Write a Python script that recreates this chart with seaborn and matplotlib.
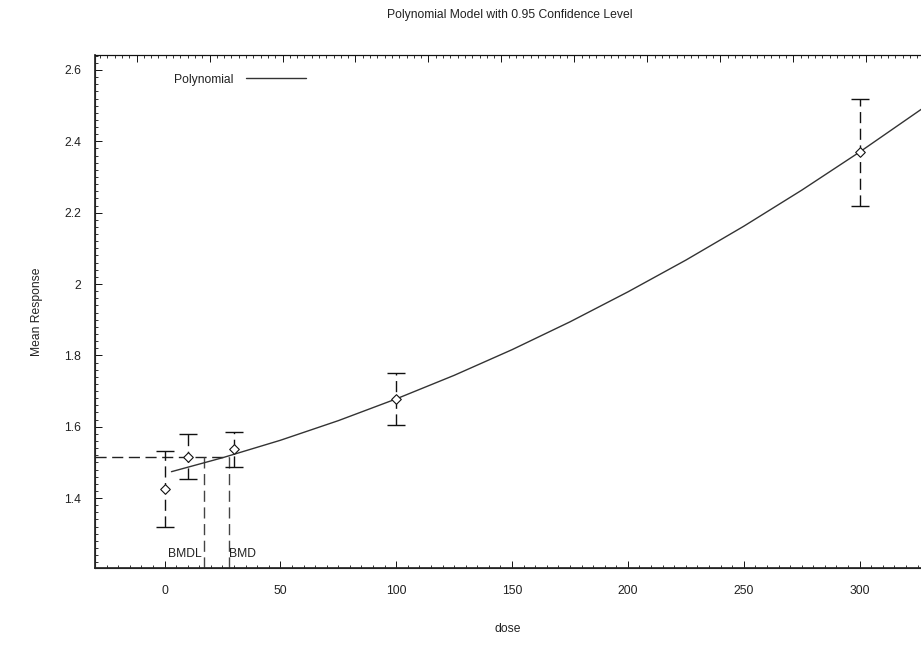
import numpy as np
import pandas as pd
import matplotlib
matplotlib.use("Agg")
import matplotlib.pyplot as plt
from matplotlib.ticker import MultipleLocator
import seaborn as sns

# Observed group data (dose, mean, lower/upper 95% limits)
doses = [0, 10, 30, 100, 300]
means = [1.426, 1.516, 1.538, 1.677, 2.370]
lower = [1.318, 1.453, 1.487, 1.604, 2.218]
upper = [1.533, 1.581, 1.585, 1.750, 2.518]

# Fitted polynomial curve
curve_dose = [3, 25, 50, 75, 100, 125, 150, 175, 200, 225, 250, 275, 300, 330]
curve_resp = [1.474, 1.513, 1.562, 1.617, 1.678, 1.744, 1.816, 1.894,
              1.978, 2.067, 2.162, 2.263, 2.370, 2.505]

# Benchmark dose markers
bmr_level = 1.516
bmdl = 17.2
bmd = 27.7

sns.set_theme(style="ticks")
plt.rcParams['font.family'] = ['Liberation Sans', 'DejaVu Sans']

fig = plt.figure(figsize=(9.21, 6.5), dpi=100)
ax = fig.add_axes([95 / 921, 82 / 650, 1 - 95 / 921, 513 / 650])

text_col = "#222222"
fs = 8.7
dash = (0, (8, 4))

# model curve
curve = pd.DataFrame({"dose": curve_dose, "resp": curve_resp})
sns.lineplot(data=curve, x="dose", y="resp", ax=ax, color="#333333",
             linewidth=1.0, label="Polynomial", zorder=3)

# error bars with dashed stems and solid caps
lo = np.array(means) - np.array(lower)
hi = np.array(upper) - np.array(means)
eb = ax.errorbar(doses, means, yerr=[lo, hi], fmt="none", ecolor="#111111",
                 elinewidth=1.0, capsize=6.8, capthick=1.0, zorder=2)
eb[2][0].set_linestyle(dash)

# diamond markers for the means
pts = pd.DataFrame({"dose": doses, "mean": means})
sns.scatterplot(data=pts, x="dose", y="mean", ax=ax, marker="D", s=24,
                facecolor="white", edgecolor="#111111", linewidth=0.8,
                zorder=4, legend=False)

# BMR / BMD / BMDL guide lines
ylo = 1.204
ax.plot([-30, bmd], [bmr_level, bmr_level], color="#222222", lw=1.0,
        linestyle=dash, zorder=1)
ax.plot([bmdl, bmdl], [ylo, bmr_level], color="#444444", lw=1.0,
        linestyle=dash, zorder=1)
ax.plot([bmd, bmd], [ylo, bmr_level], color="#444444", lw=1.0,
        linestyle=dash, zorder=1)
ax.text(bmdl - 1.2, 1.242, "BMDL", ha="right", va="center", fontsize=fs,
        color=text_col)
ax.text(bmd, 1.242, "BMD", ha="left", va="center", fontsize=fs,
        color=text_col)

ax.set_xlim(-30, 326.5)
ax.set_ylim(ylo, 2.642)

ax.xaxis.set_major_locator(MultipleLocator(50))
ax.xaxis.set_minor_locator(MultipleLocator(5))
ax.yaxis.set_minor_locator(MultipleLocator(0.02))
ax.set_yticks([1.4, 1.6, 1.8, 2.0, 2.2, 2.4, 2.6])
ax.set_yticklabels(["1.4", "1.6", "1.8", "2", "2.2", "2.4", "2.6"])
ax.tick_params(axis="both", which="major", direction="in", length=5,
               width=0.7, labelsize=fs, colors="#111111", labelcolor=text_col)
ax.tick_params(axis="both", which="minor", direction="in", length=2.5,
               width=0.6, colors="#111111")
ax.tick_params(axis="x", which="major", pad=12)
ax.tick_params(axis="y", which="major", pad=10)

for side in ["left", "bottom", "top"]:
    ax.spines[side].set_visible(True)
    ax.spines[side].set_color("#111111")
    ax.spines[side].set_linewidth(0.8)
ax.spines["right"].set_visible(False)

# top axis ticks on their own spacing
top = ax.twiny()
top.set_xlim(0.43, 11.75)
top.xaxis.set_major_locator(MultipleLocator(1))
top.xaxis.set_minor_locator(MultipleLocator(0.1))
top.tick_params(axis="x", which="major", direction="in", length=5, width=0.7,
                labeltop=False, colors="#111111")
top.tick_params(axis="x", which="minor", direction="in", length=2.5,
                width=0.6, colors="#111111")
top.spines["right"].set_visible(False)
top.spines["top"].set_color("#111111")
top.spines["top"].set_linewidth(0.8)

ax.set_xlabel("dose", fontsize=fs, color=text_col, labelpad=19)
ax.set_ylabel("Mean Response", fontsize=fs, color=text_col, labelpad=15)

fig.text(510 / 921, 1 - 15 / 650, "Polynomial Model with 0.95 Confidence Level",
         ha="center", va="center", fontsize=fs, color=text_col)

leg = ax.legend(loc="upper left", bbox_to_anchor=(0.083, 0.985), frameon=False,
                markerfirst=False, fontsize=fs, handlelength=5.0,
                handletextpad=1.0)
for t in leg.get_texts():
    t.set_color(text_col)

fig.savefig("out.png", dpi=100)
